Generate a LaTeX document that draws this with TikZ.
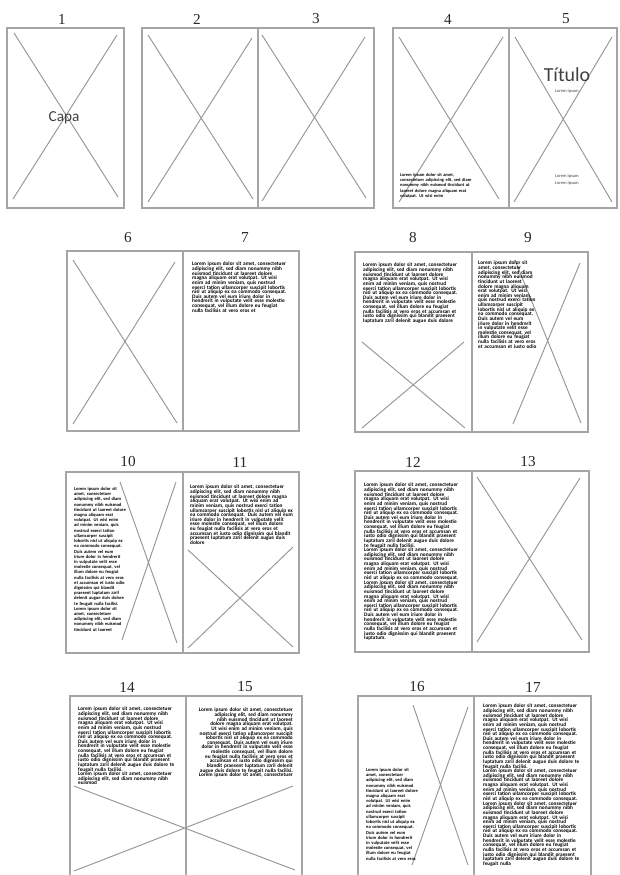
\documentclass[tikz,border=0pt]{standalone}
\usepackage{fontspec}
\usepackage{tikz}
\usetikzlibrary{positioning}
\newfontfamily\bodyfont{Carlito}
\newfontfamily\numfont{Liberation Serif}
\definecolor{boxgray}{RGB}{165,165,165}
\definecolor{crossgray}{RGB}{150,150,150}
\definecolor{numgray}{RGB}{40,40,40}
\hyphenpenalty=10000
\exhyphenpenalty=10000
\tikzset{
    % page outline and the image placeholder cross
    pagebox/.style={draw=boxgray, line width=0.9pt},
    crossline/.style={draw=crossgray, line width=0.8pt},
    % page number above each page
    pagenum/.style={font=\numfont\fontsize{13}{13}\selectfont, text=numgray, inner sep=0pt},
    % dummy body text
    bodytext/.style={font=\bodyfont\bfseries\fontsize{4.5}{3.95}\selectfont,
        align=left, anchor=north west, inner sep=0pt},
    bodynarrow/.style={bodytext, font=\bodyfont\bfseries\fontsize{3.9}{4.45}\selectfont},
    bodyright/.style={bodytext, align=right, anchor=north east},
    titletext/.style={font=\bodyfont, text=black!75, inner sep=0pt},
}
% the running lorem ipsum
\newcommand\loremstart{Lorem ipsum dolor sit amet, consectetuer adipiscing elit, sed diam nonummy nibh euismod tincidunt ut laoreet dolore magna aliquam erat volutpat. Ut wisi enim ad minim veniam, quis nostrud exerci tation ullamcorper suscipit lobortis nisl ut aliquip ex ea commodo consequat.}
\newcommand\loremmid{Duis autem vel eum iriure dolor in hendrerit in vulputate velit esse molestie consequat, vel illum dolore eu feugiat nulla facilisis at vero eros et accumsan et iusto odio dignissim qui blandit praesent luptatum zzril delenit augue duis dolore}
\newcommand\loremfull{\loremstart{} \loremmid{} te feugait nulla facilisi.}

\begin{document}
\begin{tikzpicture}[x=0.03cm,y=-0.03cm]
  \clip (0,0) rectangle (619,875);
  \fill[white] (0,0) rectangle (619,875);

  % ---- row 1
  \draw[pagebox] (7,28) rectangle (124,208);
  \draw[pagebox] (142,28) rectangle (374,208) (258,28) -- (258,208);
  \draw[pagebox] (393,28) rectangle (617,208) (509,28) -- (509,208);
  \node[pagenum] (n1) at (62,19)  {1};
  \node[pagenum] (n2) at (197,19) {2};
  \node[pagenum] (n3) at (316,19) {3};
  \node[pagenum] (n4) at (448,19) {4};
  \node[pagenum] (n5) at (566,19) {5};
  \draw[crossline] (14,33) -- (118,197) (117,35) -- (13,199);
  \draw[crossline] (148,35) -- (253,199) (252,38) -- (148,202);
  \draw[crossline] (262,35) -- (366,198) (365,37) -- (262,201);
  \draw[crossline] (399,37) -- (499,199) (503,37) -- (399,202);
  \draw[crossline] (515,37) -- (612,202) (612,37) -- (514,202);
  \node[titletext, font=\bodyfont\fontsize{13}{13}\selectfont] (capa) at (64,118) {Capa};
  \node[bodytext, text width=2.2cm, font=\bodyfont\bfseries\fontsize{3.8}{4.5}\selectfont]
    (txt4) at (400,173) {Lorem ipsum dolor sit amet, consectetuer adipiscing elit, sed diam nonummy nibh euismod tincidunt ut laoreet dolore magna aliquam erat volutpat. Ut wisi enim};
  \node[titletext, font=\bodyfont\fontsize{17}{17}\selectfont] (titulo) at (567,75) {Título};
  \node[titletext, font=\bodyfont\fontsize{3.8}{3.8}\selectfont] (sub5) at (567,91) {Lorem Ipsum};
  \node[titletext, font=\bodyfont\fontsize{3.8}{5.5}\selectfont, align=center] (foot5) at (567,180) {Lorem Ipsum\\Lorem Ipsum};

  % ---- row 2
  \draw[pagebox] (67,251) rectangle (299,431) (183,251) -- (183,431);
  \draw[pagebox] (355,252) rectangle (588,432) (472,252) -- (472,432);
  \node[pagenum] (n6) at (128,238) {6};
  \node[pagenum] (n7) at (245,238) {7};
  \node[pagenum] (n8) at (413,238) {8};
  \node[pagenum] (n9) at (528,238) {9};
  \draw[crossline] (73,260) -- (177,423) (175,262) -- (73,424);
  \node[bodytext, text width=2.85cm] (txt7) at (192,262)
    {\loremstart{} Duis autem vel eum iriure dolor in hendrerit in vulputate velit esse molestie consequat, vel illum dolore eu feugiat nulla facilisis at vero eros et};
  \node[bodytext, text width=2.88cm] (txt8) at (363,263) {\loremstart{} \loremmid};
  \draw[crossline] (362,342) -- (465,428) (464,342) -- (362,428);
  \draw[crossline] (515,260) -- (581,423) (580,263) -- (513,424);
  \node[bodytext, text width=1.77cm] (txt9) at (478,261)
    {\loremstart{} Duis autem vel eum iriure dolor in hendrerit in vulputate velit esse molestie consequat, vel illum dolore eu feugiat nulla facilisis at vero eros et accumsan et iusto odio};

  % ---- row 3
  \draw[pagebox] (66,472) rectangle (299,653) (183,472) -- (183,653);
  \draw[pagebox] (355,471) rectangle (589,652) (472,471) -- (472,652);
  \node[pagenum] (n10) at (128,462) {10};
  \node[pagenum] (n11) at (240,462) {11};
  \node[pagenum] (n12) at (413,462) {12};
  \node[pagenum] (n13) at (528,462) {13};
  \draw[crossline] (120,482) -- (177,643) (176,482) -- (122,640);
  \node[bodynarrow, text width=1.6cm] (txt10) at (74,487)
    {\loremfull\\Lorem ipsum dolor sit amet, consectetuer adipiscing elit, sed diam nonummy nibh euismod tincidunt ut laoreet};
  \node[bodytext, text width=3.1cm] (txt11) at (190,485) {\loremstart{} \loremmid};
  \draw[crossline] (188,550) -- (293,647) (293,547) -- (188,648);
  \node[bodytext, text width=2.88cm] (txt12) at (364,483)
    {\loremfull\\\loremstart\\\loremstart{} Duis autem vel eum iriure dolor in hendrerit in vulputate velit esse molestie consequat, vel illum dolore eu feugiat nulla facilisis at vero eros et accumsan et iusto odio dignissim qui blandit praesent luptatum.};
  \draw[crossline] (477,477) -- (582,640) (580,478) -- (477,642);

  % ---- row 4 (cut off at the bottom)
  \draw[pagebox] (70,696) rectangle (302,890) (186,696) -- (186,890);
  \draw[pagebox] (358,696) rectangle (591,890) (474,696) -- (474,890);
  \node[pagenum] (n14) at (127,687) {14};
  \node[pagenum] (n15) at (245,687) {15};
  \node[pagenum] (n16) at (417,687) {16};
  \node[pagenum] (n17) at (533,687) {17};
  \node[bodytext, text width=2.9cm] (txt14) at (78,707)
    {\loremfull\\Lorem ipsum dolor sit amet, consectetuer adipiscing elit, sed diam nonummy nibh euismod};
  \node[bodyright, text width=2.82cm] (txt15) at (293,708)
    {\loremfull\\Lorem ipsum dolor sit amet, consectetuer};
  \draw[crossline] (74,786) -- (295,870) (293,786) -- (74,871);
  \draw[crossline] (413,705) -- (468,865) (468,707) -- (412,865);
  \node[bodynarrow, text width=1.55cm] (txt16) at (366,768)
    {\loremstart{} Duis autem vel eum iriure dolor in hendrerit in vulputate velit esse molestie consequat, vel illum dolore eu feugiat nulla facilisis at vero eros};
  \node[bodytext, text width=2.9cm] (txt17) at (483,704)
    {\loremfull\\\loremstart\\\loremstart{} \loremmid{} te feugait nulla};
\end{tikzpicture}
\end{document}
